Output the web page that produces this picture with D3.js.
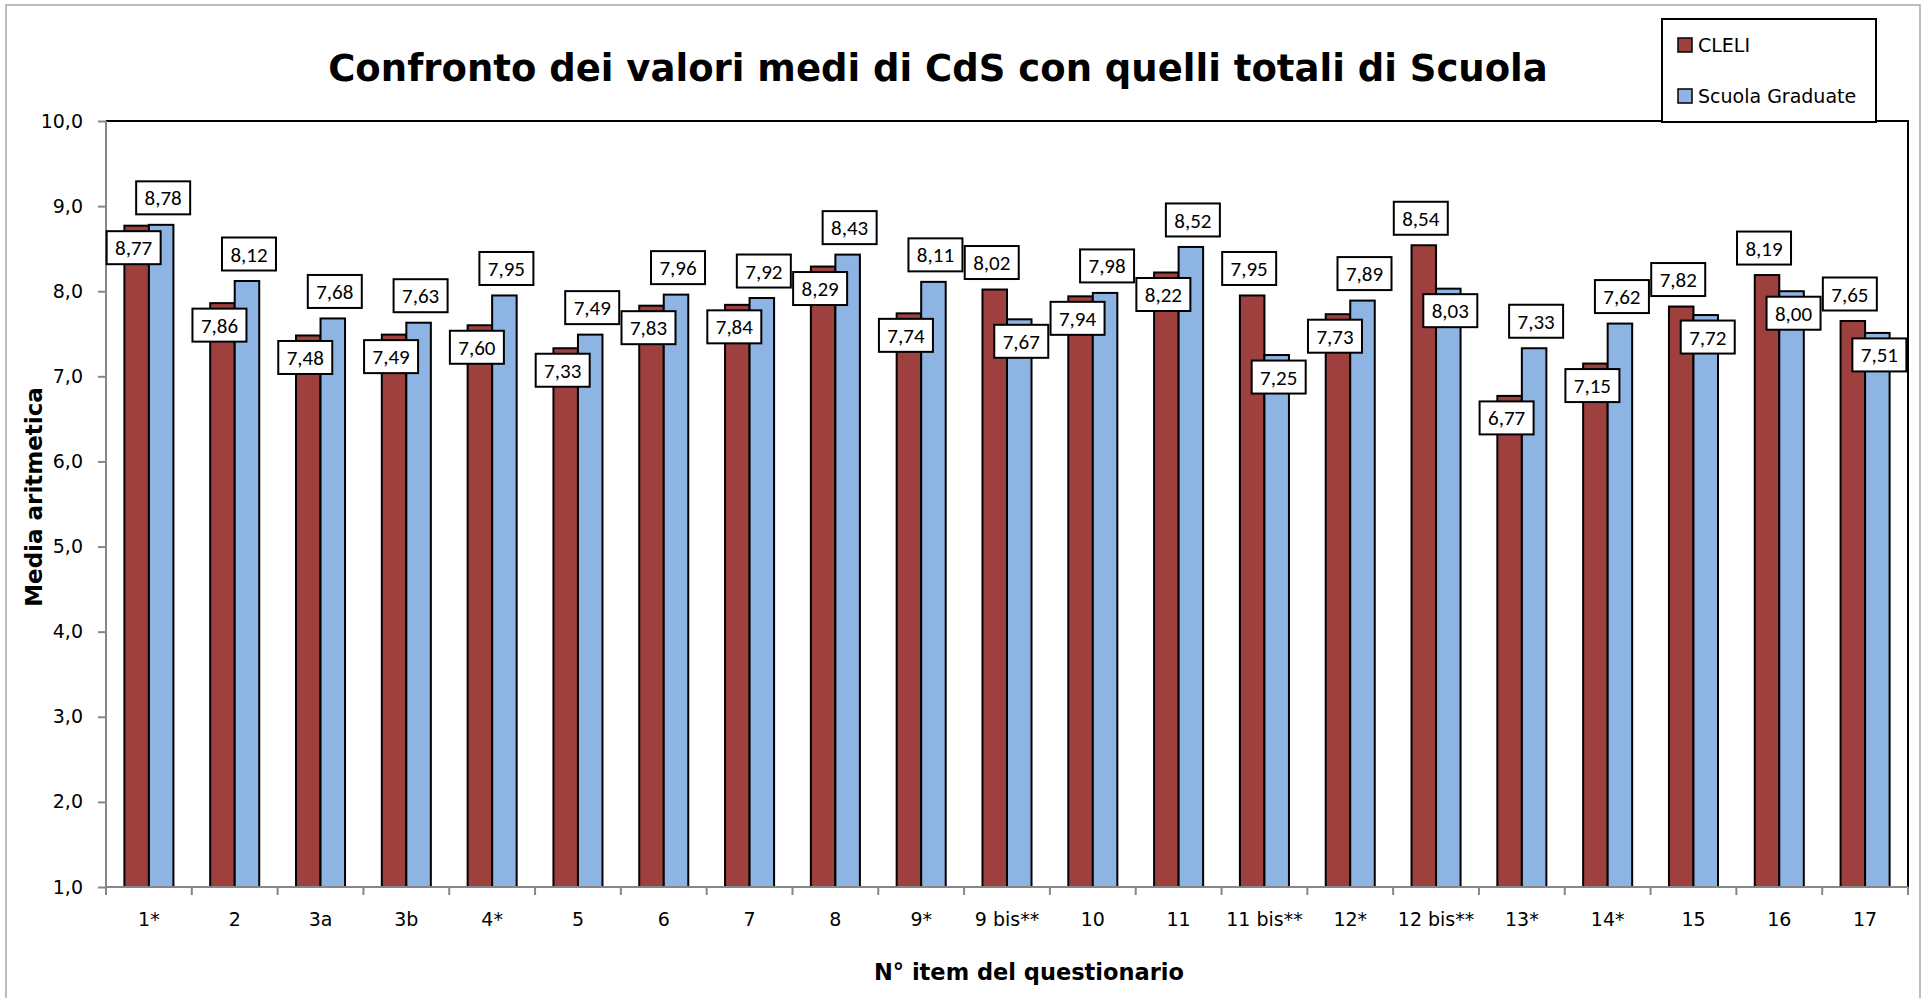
<!DOCTYPE html>
<html>
<head>
<meta charset="utf-8">
<script src="https://cdn.jsdelivr.net/npm/d3@7"></script>
<style>
  body { margin: 0; background: #fff; }
  svg { display: block; }
</style>
</head>
<body>
<div id="chart"></div>
<script>
// data
let categories = ['1*','2','3a','3b','4*','5','6','7','8','9*','9 bis**','10','11','11 bis**','12*','12 bis**','13*','14*','15','16','17'];
let cleli  = [8.77,7.86,7.48,7.49,7.60,7.33,7.83,7.84,8.29,7.74,8.02,7.94,8.22,7.95,7.73,8.54,6.77,7.15,7.82,8.19,7.65];
let scuola = [8.78,8.12,7.68,7.63,7.95,7.49,7.96,7.92,8.43,8.11,7.67,7.98,8.52,7.25,7.89,8.03,7.33,7.62,7.72,8.00,7.51];
let seriesNames = ['CLELI','Scuola Graduate'];
let yTicks = [1,2,3,4,5,6,7,8,9,10];

let colors = ['#9E413E','#8EB4E3'];
let comic = "'Comic Sans MS','DejaVu Sans',sans-serif";
let calibri = "Calibri,Carlito,'Open Sans',sans-serif";

let W = 1923, H = 998;
let margin = {top: 121, right: 15, bottom: 111, left: 106};

let svg = d3.select('#chart').append('svg').attr('width', W).attr('height', H);

// outer chart frame
svg.append('rect').attr('x', 6).attr('y', 5).attr('width', 1914).attr('height', 1010)
  .attr('fill', 'none').attr('stroke', '#a6a6a6').attr('stroke-width', 1.5);

let x = d3.scaleBand().domain(categories).range([margin.left, W - margin.right]).paddingInner(0).paddingOuter(0);
let x1 = d3.scaleBand().domain(seriesNames).range([0, x.bandwidth()]).paddingInner(0).paddingOuter(0.75);
let y = d3.scaleLinear().domain([1, 10]).range([H - margin.bottom, margin.top]);

let comma = f => v => d3.format(f)(v).replace('.', ',');

// plot area border (top and right black)
svg.append('path')
  .attr('d', `M${margin.left},${y(10)}H${W - margin.right}V${y(1)}`)
  .attr('fill', 'none').attr('stroke', '#000').attr('stroke-width', 2);

// bars
let data = categories.map((c, i) => ({cat: c, vals: [cleli[i], scuola[i]]}));

let groups = svg.append('g').selectAll('g').data(data).enter().append('g')
  .attr('transform', d => `translate(${x(d.cat)},0)`);

groups.selectAll('rect').data(d => d.vals.map((v, k) => ({k: k, v: v})))
  .enter().append('rect')
  .attr('x', d => x1(seriesNames[d.k]))
  .attr('y', d => y(d.v))
  .attr('width', x1.bandwidth())
  .attr('height', d => y(1) - y(d.v))
  .attr('fill', d => colors[d.k])
  .attr('stroke', '#000').attr('stroke-width', 2);

// y axis
let yAxis = svg.append('g').attr('transform', `translate(${margin.left},0)`)
  .call(d3.axisLeft(y).tickValues(yTicks).tickSize(8).tickPadding(15).tickFormat(comma('.1f')));
yAxis.selectAll('line').attr('stroke', '#868686').attr('stroke-width', 2);
yAxis.select('.domain').attr('stroke', '#868686').attr('stroke-width', 2).attr('d', `M0,${y(1)}V${y(10)}`);
yAxis.selectAll('text').attr('font-family', comic).attr('font-size', 19).attr('fill', '#000');

// x axis: labels at centers, ticks on band edges
let xAxis = svg.append('g').attr('transform', `translate(0,${y(1)})`)
  .call(d3.axisBottom(x).tickSize(0).tickPadding(26));
xAxis.select('.domain').attr('stroke', '#868686').attr('stroke-width', 2)
  .attr('d', `M${margin.left},0H${W - margin.right}`);
xAxis.selectAll('text').attr('font-family', comic).attr('font-size', 19).attr('fill', '#000');

let edges = categories.map(c => x(c)).concat([x.range()[1]]);
svg.append('g').selectAll('line').data(edges).enter().append('line')
  .attr('x1', d => d).attr('x2', d => d)
  .attr('y1', y(1)).attr('y2', y(1) + 8)
  .attr('stroke', '#868686').attr('stroke-width', 2);

// data labels: higher bar of each pair gets its box above, lower one just under its top
let boxW = 54, boxH = 33;
let labels = [];
data.forEach(d => {
  let hi = d.vals[0] > d.vals[1] ? 0 : 1;
  let lo = 1 - hi;
  let hiY = y(d.vals[hi]) - 27;
  let loY = Math.max(y(d.vals[lo]) + 22, hiY + 36);
  labels.push({cat: d.cat, k: hi, v: d.vals[hi], cy: hiY});
  labels.push({cat: d.cat, k: lo, v: d.vals[lo], cy: loY});
});

let lab = svg.append('g').selectAll('g').data(labels).enter().append('g')
  .attr('transform', d => `translate(${x(d.cat) + x1(seriesNames[d.k]) + x1.bandwidth() / 2 + (d.k ? 2 : -3)},${d.cy})`);
lab.append('rect')
  .attr('x', -boxW / 2).attr('y', -boxH / 2).attr('width', boxW).attr('height', boxH)
  .attr('fill', '#fff').attr('stroke', '#000').attr('stroke-width', 2);
lab.append('text')
  .attr('text-anchor', 'middle').attr('dy', '0.36em')
  .attr('font-family', calibri).attr('font-size', 21)
  .text(d => comma('.2f')(d.v));

// title
svg.append('text').attr('x', 938).attr('y', 81).attr('text-anchor', 'middle')
  .attr('font-family', comic).attr('font-weight', 'bold').attr('font-size', 37)
  .text('Confronto dei valori medi di CdS con quelli totali di Scuola');

// axis titles
svg.append('text').attr('x', 1029).attr('y', 980).attr('text-anchor', 'middle')
  .attr('font-family', comic).attr('font-weight', 'bold').attr('font-size', 22.5)
  .text('N° item del questionario');
svg.append('text').attr('transform', 'translate(42,497) rotate(-90)').attr('text-anchor', 'middle')
  .attr('font-family', comic).attr('font-weight', 'bold').attr('font-size', 23)
  .text('Media aritmetica');

// legend
let lg = svg.append('g');
lg.append('rect').attr('x', 1662).attr('y', 19).attr('width', 214).attr('height', 103)
  .attr('fill', '#fff').attr('stroke', '#000').attr('stroke-width', 2);
let li = lg.selectAll('g').data(seriesNames).enter().append('g')
  .attr('transform', (d, i) => `translate(1678,${45 + i * 51})`);
li.append('rect').attr('x', 0).attr('y', -7).attr('width', 14).attr('height', 14)
  .attr('fill', (d, i) => colors[i]).attr('stroke', '#000').attr('stroke-width', 1.5);
li.append('text').attr('x', 20).attr('dy', '0.35em')
  .attr('font-family', comic).attr('font-size', 19)
  .text(d => d);
</script>
</body>
</html>
